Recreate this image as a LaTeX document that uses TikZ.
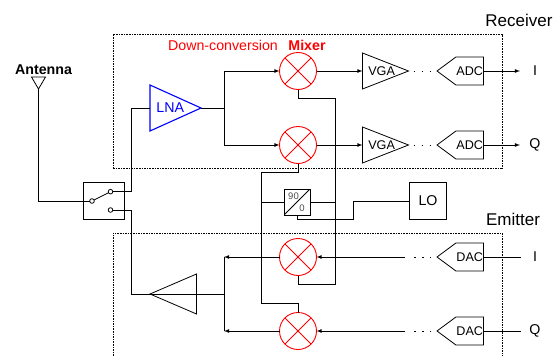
\documentclass[tikz,border=0pt]{standalone}
\usepackage{fontspec}
\setmainfont{Liberation Sans}
\usetikzlibrary{positioning, shapes.geometric, shapes.symbols}
\tikzset{
    every node/.style={outer sep=0pt},
    frame/.style={draw, dash pattern=on 1.6pt off 1pt, minimum width=389pt, minimum height=134pt},
    opendash/.style={dash pattern=on 1.6pt off 1pt},
    mixer/.style={draw=red, line width=0.9pt, circle, inner sep=0pt, minimum size=37pt,
        path picture={\draw[red, line width=0.9pt] (path picture bounding box.north west) -- (path picture bounding box.south east)
            (path picture bounding box.north east) -- (path picture bounding box.south west);}},
    ampl/.style={draw, isosceles triangle, isosceles triangle stretches, inner sep=0pt},
    conv/.style={draw, signal, signal to=west, signal pointer angle=73, inner sep=0pt, minimum width=46.5pt, minimum height=28pt, font=\fontsize{12.6}{14}\selectfont},
    contact/.style={draw, circle, inner sep=0pt, minimum size=4.6pt},
    plainbox/.style={draw, rectangle, inner sep=0pt},
    big/.style={font=\fontsize{17}{20}\selectfont},
    mid/.style={font=\fontsize{14.2}{16}\selectfont},
    dots/.style={dash pattern=on 1.5pt off 6.5pt, shorten <=5pt, shorten >=6pt} }

\begin{document}
\begin{tikzpicture}[x=1pt, y=-1pt, line width=0.8pt]
    \useasboundingbox (0,0) rectangle (560,356);
    \node[frame] (rxframe) at (307.5,101) {};
    \coordinate (txl) at (113,356);
    \coordinate (txr) at (502,356);
    \draw[opendash] (txl) |- (502,233) -- (txr);
    \node[big] (rx) at (519,20) {Receiver};
    \node[big] (tx) at (513,219) {Emitter};
    % ----
    \node[mixer] (mix1) at (298,71) {};
    \node[mixer, below = 37pt of mix1] (mix2) {};
    \node[mixer] (mix3) at (298,257) {};
    \node[mixer, below = 37pt of mix3] (mix4) {};
    \node[mid, text=red] (down) at (223,45) {Down-conversion};
    \node[text=red, font=\fontsize{14.2}{16}\selectfont\bfseries] (mixlab) at (307,45) {Mixer};
    % ----
    \node[ampl, draw=blue, text=blue, line width=1.1pt, mid, minimum width=46pt, minimum height=51pt, anchor=apex] (lna) at (201,108) {\hspace*{4pt}LNA};
    \node[ampl, right = 46pt of mix1, minimum width=36pt, minimum height=46pt, font=\fontsize{12.6}{14}\selectfont] (vga1) {\hspace*{5pt}VGA};
    \node[ampl, right = 46pt of mix2, minimum width=36pt, minimum height=46pt, font=\fontsize{12.6}{14}\selectfont] (vga2) {\hspace*{5pt}VGA};
    \node[ampl, shape border rotate=180, minimum width=40pt, minimum height=46.5pt, anchor=apex] (pa) at (150,294) {};
    \node[conv, anchor=east] (adc1) at (483.5,71) {ADC};
    \node[conv, anchor=east] (adc2) at (483.5,145) {ADC};
    \node[conv, anchor=east] (dac1) at (483.5,257) {DAC};
    \node[conv, anchor=east] (dac2) at (483.5,331) {DAC};
    \node[mid] (i1) at (535,71) {I};
    \node[mid] (q1) at (535,145) {Q};
    \node[mid] (i2) at (535,257) {I};
    \node[mid] (q2) at (535,331) {Q};
    % ----
    \node[ampl, shape border rotate=270, minimum width=14pt, minimum height=12pt, anchor=apex] (ant) at (38.5,89) {};
    \node[font=\fontsize{14.2}{16}\selectfont\bfseries] (antlab) at (43.5,70) {Antenna};
    \node[plainbox, minimum size=37pt, minimum width=41pt] (sw) at (103.5,201) {};
    \node[contact] (swc) at (92,201) {};
    \node[contact] (swa) at (110.5,191.7) {};
    \node[contact] (swb) at (110.5,210) {};
    \node[plainbox, minimum size=26pt, path picture={\draw (path picture bounding box.south west) -- (path picture bounding box.north east);}] (split) at (297,202) {};
    \node[font=\fontsize{9.5}{10}\selectfont, text=black!70] (s90) at (293.5,196) {90};
    \node[font=\fontsize{9.5}{10}\selectfont, text=black!70] (s0) at (302,208) {0};
    \node[plainbox, mid, minimum size=37pt] (lo) at (428,201) {LO};
    % ----
    \coordinate (lnain) at (131.5,108);
    \coordinate (painb) at (131.5,294);
    \coordinate (fork1) at (224,108);
    \coordinate (fork2) at (224,294);
    \coordinate (out1) at (520,71);
    \coordinate (out2) at (520,145);
    \coordinate (in1) at (521,257);
    \coordinate (in2) at (521,331);
    \coordinate (end1) at (405,257);
    \coordinate (end2) at (405,331);
    \coordinate (bus1a) at (335,98.5);
    \coordinate (bus1b) at (335,284.3);
    \coordinate (bus2a) at (261,172);
    \coordinate (bus2b) at (261,303);
    \coordinate (lomid) at (353.5,219);
    % ----
    \draw (ant) |- (swc);
    \draw (swc) -- (swa);
    \draw (swa) -| (lnain) -- (lna.west);
    \draw (swb) -| (painb) -- (pa.apex);
    \draw (lna.apex) -- (fork1);
    \draw[-latex] (fork1) |- (mix1);
    \draw[-latex] (fork1) |- (mix2);
    \draw (pa.west) -- (fork2);
    \draw[latex-] (fork2 |- mix3) -- (mix3);
    \draw[latex-] (fork2 |- mix4) -- (mix4);
    \draw (fork2 |- mix3) -- (fork2 |- mix4);
    % ----
    \draw (mix1.south) |- (bus1a) -- (bus1b) -| (mix3.south);
    \draw (mix2.south) |- (bus2a) -- (bus2b) -| (mix4.north);
    \draw (bus2a |- split) -- (split);
    \draw (split) -- (bus1a |- split);
    \draw (split.south) |- (lomid) -- (lomid |- lo) -- (lo);
    % ----
    \path[-latex]
        (mix1) edge (vga1.west)
        (mix2) edge (vga2.west)
        (adc1.east) edge (out1)
        (adc2.east) edge (out2)
        (end1) edge (mix3)
        (end2) edge (mix4);
    \path
        (dac1.east) edge (in1)
        (dac2.east) edge (in2);
    \path[dots]
        (vga1.apex) edge (adc1.west)
        (vga2.apex) edge (adc2.west);
    \path[dots, shorten <=9pt]
        (end1) edge (dac1.west)
        (end2) edge (dac2.west);
\end{tikzpicture}
\end{document}
